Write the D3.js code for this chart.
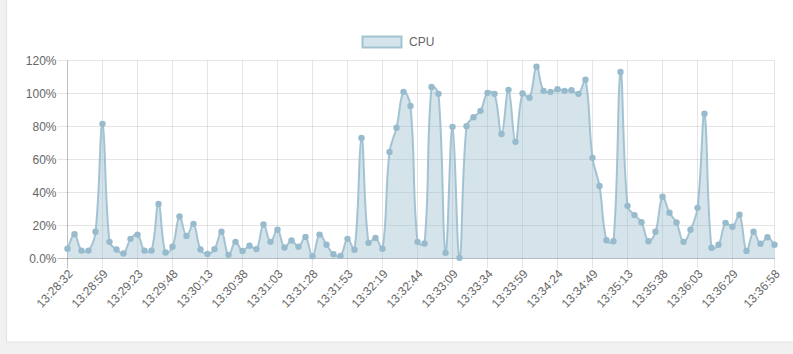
<!DOCTYPE html>
<html>
<head>
<meta charset="utf-8">
<script src="https://cdn.jsdelivr.net/npm/d3@7.9.0/dist/d3.min.js"></script>
<style>
  html, body { margin: 0; padding: 0; background: #f1f1f1; }
  svg { display: block; font-family: 'Liberation Sans', Arial, sans-serif; }
</style>
</head>
<body>
<svg id="chart" width="793" height="354"></svg>
<script>
// CPU usage samples (%), one every ~5 s
const cpu = [
  5.9, 14.7, 4.8, 4.8, 16.2, 81.6, 10.1, 5.5, 3.0, 11.9,
  14.5, 4.8, 4.8, 33.1, 3.6, 7.1, 25.5, 13.7, 21.0, 5.5,
  2.8, 5.7, 16.2, 2.2, 10.1, 4.6, 7.7, 5.7, 20.6, 10.1,
  17.4, 6.7, 10.9, 7.1, 13.1, 1.4, 14.5, 8.3, 2.6, 1.6,
  11.9, 5.3, 73.1, 9.5, 12.5, 5.9, 64.6, 79.2, 101.0, 92.5,
  10.1, 9.1, 104.0, 99.8, 3.4, 79.8, 0.4, 80.2, 85.6, 89.5,
  100.4, 99.8, 75.5, 102.2, 70.7, 100.0, 97.4, 116.2, 101.6, 101.0,
  102.6, 101.6, 102.0, 99.8, 108.3, 61.0, 44.0, 11.1, 10.5, 113.1,
  31.9, 26.3, 22.0, 10.5, 16.2, 37.4, 27.7, 21.8, 10.1, 17.4,
  30.7, 87.7, 6.5, 8.3, 21.6, 19.2, 26.5, 4.6, 16.2, 8.9,
  12.9, 8.3
];

// category labels that survive auto-skip, with their sample index
const timeLabels = [
  '13:28:32', '13:28:59', '13:29:23', '13:29:48', '13:30:13', '13:30:38', '13:31:03',
  '13:31:28', '13:31:53', '13:32:19', '13:32:44', '13:33:09', '13:33:34', '13:33:59',
  '13:34:24', '13:34:49', '13:35:13', '13:35:38', '13:36:03', '13:36:29', '13:36:58'
];
const timeIndex = [0, 5, 10, 15, 20, 25, 30, 35, 40, 45, 50, 55, 60, 65, 70, 75, 80, 85, 90, 95, 101];

const yTicks = [0, 20, 40, 60, 80, 100, 120];
const yLabels = ['0.0%', '20%', '40%', '60%', '80%', '100%', '120%'];

const seriesName = 'CPU';

const svg = d3.select('#chart');

// white card
svg.append('rect')
  .attr('x', 6.5).attr('y', -2)
  .attr('width', 800).attr('height', 344)
  .attr('fill', '#fff').attr('stroke', '#e2e2e2');

const plotL = 67.5, plotR = 774.5, plotT = 60.5, plotB = 258.5;

const x = d3.scaleLinear().domain([0, cpu.length - 1]).range([plotL, plotR]);
const y = d3.scaleLinear().domain([0, 120]).range([plotB, plotT]);

// grid
let grid = svg.append('g');
yTicks.forEach((t, i) => {
  grid.append('line')
    .attr('x1', plotL - 10).attr('x2', plotR)
    .attr('y1', y(t)).attr('y2', y(t))
    .attr('stroke', t === 0 ? 'rgba(0,0,0,0.25)' : 'rgba(0,0,0,0.1)');
});
timeIndex.forEach((idx, i) => {
  grid.append('line')
    .attr('x1', x(idx)).attr('x2', x(idx))
    .attr('y1', plotT).attr('y2', plotB + 10)
    .attr('stroke', i === 0 ? 'rgba(0,0,0,0.25)' : 'rgba(0,0,0,0.1)');
});

// chart.js style spline (tension 0.4, capped to the chart area)
const pts = cpu.map((v, i) => ({ x: x(i), y: y(v) }));
const tension = 0.4;
pts.forEach((p, i) => {
  let prev = pts[i - 1] || p, next = pts[i + 1] || p;
  let d01 = Math.hypot(p.x - prev.x, p.y - prev.y);
  let d12 = Math.hypot(next.x - p.x, next.y - p.y);
  let s01 = d01 / (d01 + d12) || 0;
  let s12 = d12 / (d01 + d12) || 0;
  let fa = tension * s01, fb = tension * s12;
  p.cpx0 = p.x - fa * (next.x - prev.x);
  p.cpy0 = Math.max(plotT, Math.min(plotB, p.y - fa * (next.y - prev.y)));
  p.cpx1 = p.x + fb * (next.x - prev.x);
  p.cpy1 = Math.max(plotT, Math.min(plotB, p.y + fb * (next.y - prev.y)));
});

function splinePath(path) {
  pts.forEach((p, i) => {
    if (i === 0) path.moveTo(p.x, p.y);
    else {
      let q = pts[i - 1];
      path.bezierCurveTo(q.cpx1, q.cpy1, p.cpx0, p.cpy0, p.x, p.y);
    }
  });
  return path;
}

let area = splinePath(d3.path());
area.lineTo(x(cpu.length - 1), y(0));
area.lineTo(x(0), y(0));
area.closePath();

svg.append('path')
  .attr('d', area.toString())
  .attr('fill', 'rgba(151,187,205,0.4)');

svg.append('path')
  .attr('d', splinePath(d3.path()).toString())
  .attr('fill', 'none')
  .attr('stroke', 'rgba(151,187,205,0.85)')
  .attr('stroke-width', 2);

svg.append('g').selectAll('circle')
  .data(cpu)
  .join('circle')
  .attr('cx', (d, i) => x(i))
  .attr('cy', d => y(d))
  .attr('r', 3.2)
  .attr('fill', '#97bbcd');

// y labels
svg.append('g').selectAll('text')
  .data(yTicks)
  .join('text')
  .attr('x', plotL - 11)
  .attr('y', d => y(d))
  .attr('dy', '0.35em')
  .attr('text-anchor', 'end')
  .attr('font-size', 12)
  .attr('fill', '#666')
  .text((d, i) => yLabels[i]);

// x labels, rotated
svg.append('g').selectAll('text')
  .data(timeIndex)
  .join('text')
  .attr('transform', d => `translate(${x(d) + 3},${plotB + 13}) rotate(-47)`)
  .attr('dy', '0.35em')
  .attr('text-anchor', 'end')
  .attr('font-size', 12)
  .attr('fill', '#666')
  .text((d, i) => timeLabels[i]);

// legend
let legend = svg.append('g');
legend.append('rect')
  .attr('x', 362.5).attr('y', 36.5)
  .attr('width', 39).attr('height', 11)
  .attr('fill', 'rgba(151,187,205,0.4)')
  .attr('stroke', 'rgba(151,187,205,0.85)')
  .attr('stroke-width', 2);
legend.append('text')
  .attr('x', 409).attr('y', 42)
  .attr('dy', '0.35em')
  .attr('font-size', 12)
  .attr('fill', '#666')
  .text(seriesName);
</script>
</body>
</html>
